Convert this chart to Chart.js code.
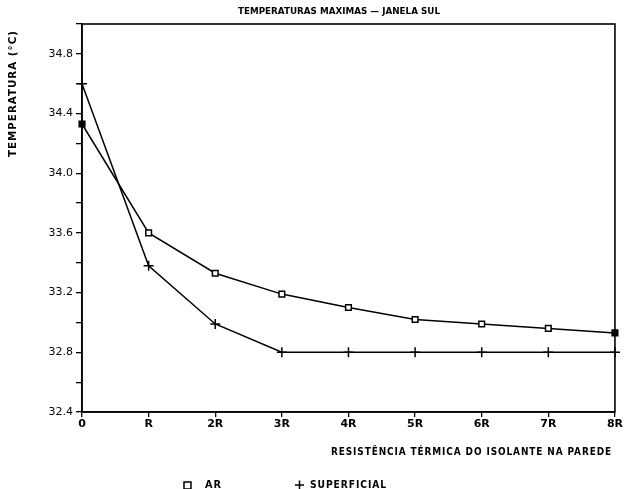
<!DOCTYPE html>
<html>
<head>
<meta charset="utf-8">
<script src="https://cdn.jsdelivr.net/npm/chart.js@4.4.1/dist/chart.umd.min.js"></script>
<style>
  html, body { margin: 0; padding: 0; background: #fff; }
  #wrap { width: 624px; height: 489px; position: relative; }
</style>
</head>
<body>
<div id="wrap"><canvas id="chartJanelaSul"></canvas></div>
<script>
(function() {
  'use strict';

  // Dados
  const categorias = ['0', 'R', '2R', '3R', '4R', '5R', '6R', '7R', '8R'];
  const tempAr = [34.33, 33.60, 33.33, 33.19, 33.10, 33.02, 32.99, 32.96, 32.93];
  const tempSuperficial = [34.60, 33.38, 32.99, 32.80, 32.80, 32.80, 32.80, 32.80, 32.80];
  const yMin = 32.4;
  const yMax = 35.0;
  const yPasso = 0.2;
  const yLabels = ['32.4', '32.8', '33.2', '33.6', '34.0', '34.4', '34.8'];

  const TITULO = 'TEMPERATURAS MAXIMAS — JANELA SUL';
  const TITULO_X = 'RESISTÊNCIA TÉRMICA DO ISOLANTE NA PAREDE';
  const TITULO_Y = 'TEMPERATURA (°C)';
  const FONTE = '"DejaVu Sans", sans-serif';

  // escreve o texto esticado/encolhido entre x0 e x1
  function textoAjustado(ctx, txt, x0, x1, y) {
    const w = ctx.measureText(txt).width;
    ctx.save();
    ctx.translate(x0, y);
    ctx.scale((x1 - x0) / w, 1);
    ctx.textAlign = 'left';
    ctx.fillText(txt, 0, 0);
    ctx.restore();
  }

  // Moldura, títulos e legenda desenhados à mão
  const textosPlugin = {
    id: 'textos',
    afterDraw(chart) {
      const ctx = chart.ctx;
      const a = chart.chartArea;
      ctx.save();
      ctx.strokeStyle = '#000';
      ctx.lineWidth = 1.6;
      ctx.strokeRect(a.left, a.top, a.right - a.left, a.bottom - a.top);

      ctx.fillStyle = '#000';
      ctx.textBaseline = 'middle';

      // título
      ctx.font = 'bold 9px ' + FONTE;
      textoAjustado(ctx, TITULO, 238, 440, 12);

      // título do eixo x
      ctx.font = 'bold 10px ' + FONTE;
      ctx.letterSpacing = '1px';
      textoAjustado(ctx, TITULO_X, 331, 612, 452);

      // título do eixo y
      ctx.save();
      ctx.translate(13, 157);
      ctx.rotate(-Math.PI / 2);
      textoAjustado(ctx, TITULO_Y, 0, 127, 0);
      ctx.restore();

      // legenda
      ctx.lineWidth = 1.5;
      ctx.strokeRect(184, 482, 7, 7);
      textoAjustado(ctx, 'AR', 205, 222, 485);
      ctx.beginPath();
      ctx.moveTo(295, 485); ctx.lineTo(304, 485);
      ctx.moveTo(299.5, 480.5); ctx.lineTo(299.5, 489.5);
      ctx.stroke();
      textoAjustado(ctx, 'SUPERFICIAL', 310, 387, 485);
      ctx.restore();
    }
  };

  function init() {
    const canvas = document.getElementById('chartJanelaSul');
    const ctx = canvas.getContext('2d');
    new Chart(ctx, {
      type: 'line',
      data: {
        labels: categorias,
        datasets: [{
          label: 'AR',
          data: tempAr,
          borderColor: '#000',
          borderWidth: 1.5,
          pointStyle: 'rect',
          pointRadius: 4,
          pointBorderWidth: 1.5,
          pointBackgroundColor: tempAr.map((v, i) => (i === 0 || i === tempAr.length - 1) ? '#000' : '#fff'),
          pointBorderColor: '#000',
          tension: 0,
          clip: false
        }, {
          label: 'SUPERFICIAL',
          data: tempSuperficial,
          borderColor: '#000',
          borderWidth: 1.5,
          pointStyle: 'cross',
          pointRadius: 5,
          pointBorderWidth: 1.5,
          pointBorderColor: '#000',
          tension: 0,
          clip: false
        }]
      },
      plugins: [textosPlugin],
      options: {
        responsive: true,
        maintainAspectRatio: false,
        animation: false,
        layout: { padding: { top: 24, right: 7, left: 0, bottom: 0 } },
        plugins: {
          legend: { display: false },
          title: { display: false },
          tooltip: { enabled: false }
        },
        scales: {
          x: {
            type: 'category',
            offset: false,
            border: { display: true, color: '#000', width: 1.6 },
            grid: { drawOnChartArea: false, drawTicks: true, tickLength: 5, color: '#000', lineWidth: 1.3 },
            ticks: {
              color: '#000',
              font: { family: FONTE, size: 11, weight: 'bold' },
              padding: 1,
              maxRotation: 0,
              autoSkip: false
            },
            afterFit(scale) { scale.height = 77; }
          },
          y: {
            min: yMin,
            max: yMax,
            border: { display: true, color: '#000', width: 1.6 },
            grid: { drawOnChartArea: false, drawTicks: true, tickLength: 6, color: '#000', lineWidth: 1.3 },
            ticks: {
              stepSize: yPasso,
              color: '#000',
              padding: 3,
              font: { family: FONTE, size: 11 },
              callback: function(value) {
                const txt = value.toFixed(1);
                return yLabels.indexOf(txt) >= 0 ? txt : '';
              }
            },
            afterFit(scale) { scale.width = 82; }
          }
        }
      }
    });
  }

  if (document.readyState === 'loading') {
    document.addEventListener('DOMContentLoaded', init);
  } else {
    init();
  }
})();
</script>
</body>
</html>
